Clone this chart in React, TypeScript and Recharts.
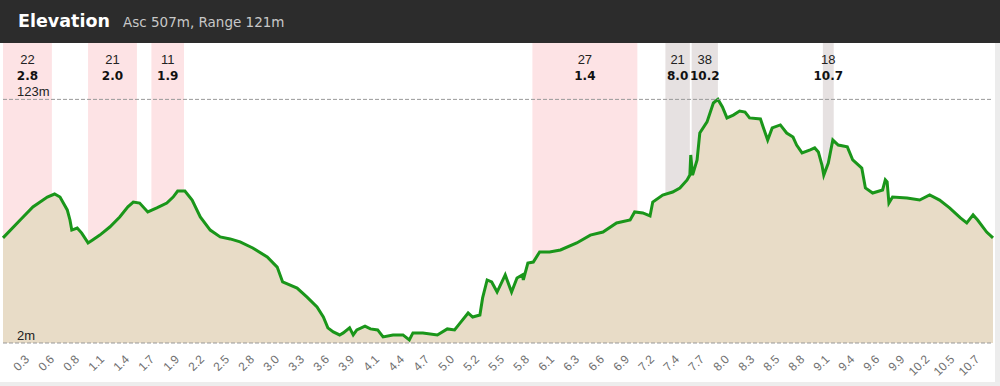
import React from "react";
import {
  AreaChart,
  Area,
  XAxis,
  YAxis,
  ReferenceArea,
  ReferenceLine,
} from "recharts";

// Distance along the route (km) and elevation (m)
const DIST_KM = [
  0.0, 0.19, 0.33, 0.49, 0.57, 0.63, 0.71, 0.74, 0.76, 0.82, 0.87, 0.94, 0.99,
  1.07, 1.18, 1.29, 1.38, 1.44, 1.51, 1.6, 1.7, 1.81, 1.88, 1.93, 2.01, 2.09,
  2.18, 2.29, 2.4, 2.51, 2.62, 2.76, 2.92, 3.03, 3.09, 3.25, 3.36, 3.47, 3.54,
  3.59, 3.65, 3.72, 3.76, 3.83, 3.87, 3.91, 4.0, 4.06, 4.14, 4.2, 4.31, 4.42,
  4.49, 4.53, 4.64, 4.8, 4.91, 4.99, 5.05, 5.14, 5.19, 5.27, 5.3, 5.35, 5.4,
  5.46, 5.55, 5.62, 5.68, 5.74, 5.75, 5.8, 5.86, 5.93, 6.04, 6.16, 6.34, 6.49,
  6.63, 6.78, 6.93, 6.98, 7.07, 7.15, 7.18, 7.29, 7.4, 7.48, 7.56, 7.59, 7.6,
  7.62, 7.67, 7.7, 7.78, 7.85, 7.9, 7.95, 8.0, 8.07, 8.14, 8.2, 8.25, 8.37,
  8.4, 8.45, 8.5, 8.59, 8.66, 8.73, 8.77, 8.83, 8.92, 8.97, 9.01, 9.05, 9.07,
  9.12, 9.17, 9.23, 9.33, 9.39, 9.49, 9.53, 9.61, 9.72, 9.75, 9.77, 9.79, 9.83,
  9.99, 10.13, 10.24, 10.35, 10.46, 10.58, 10.65, 10.72, 10.77, 10.87, 10.94,
];

const ELEV_M = [
  54.2, 63.1, 69.6, 74.5, 76.0, 74.5, 68.1, 63.1, 58.1, 59.1, 56.6, 51.7, 53.2,
  55.6, 59.6, 64.6, 69.6, 72.0, 71.5, 67.1, 69.1, 71.5, 74.5, 77.5, 77.5, 73.0,
  64.6, 58.1, 54.7, 53.7, 52.2, 49.2, 44.7, 39.7, 32.3, 29.3, 24.8, 19.9, 14.9,
  9.5, 7.5, 6.0, 7.0, 9.5, 6.0, 8.5, 10.4, 9.0, 8.5, 5.0, 6.0, 6.0,
  3.5, 7.0, 7.0, 6.0, 9.0, 8.5, 11.9, 16.9, 14.9, 15.9, 24.4, 33.3, 32.3,
  27.3, 35.8, 27.3, 34.3, 35.8, 33.3, 41.7, 42.2, 47.2, 47.2, 48.2, 51.7, 55.6,
  57.1, 61.6, 63.1, 67.1, 66.6, 65.1, 72.0, 75.5, 77.0, 79.0, 83.0, 85.4, 95.4,
  85.4, 92.9, 106.3, 111.8, 121.2, 123.0, 119.2, 113.8, 115.2, 117.2, 116.7, 113.8, 113.3,
  109.3, 102.8, 108.8, 110.3, 106.3, 104.3, 100.3, 96.4, 97.9, 98.9, 96.9, 90.4, 85.4,
  91.4, 102.8, 100.3, 99.4, 92.9, 88.9, 79.0, 76.5, 78.0, 83.0, 82.0, 71.5, 74.5,
  74.0, 73.0, 75.5, 73.0, 69.1, 64.1, 61.6, 65.6, 63.1, 57.1, 54.2,
];

// Highlighted segments
const BAND_START_KM = [0.0, 0.94, 1.64, 5.85, 7.32, 7.61, 9.06];
const BAND_END_KM = [0.54, 1.48, 2.0, 7.01, 7.59, 7.9, 9.18];
const BAND_TOP_LABELS = ["22", "21", "11", "27", "21", "38", "18"];
const BAND_BOTTOM_LABELS = ["2.8", "2.0", "1.9", "1.4", "8.0", "10.2", "10.7"];
const BAND_KIND = ["up", "up", "up", "up", "down", "down", "down"];

const TICK_LABELS = [
  "0.3", "0.6", "0.8", "1.1", "1.4", "1.7", "1.9", "2.2", "2.5", "2.8", "3.0",
  "3.3", "3.6", "3.9", "4.1", "4.4", "4.7", "5.0", "5.2", "5.5", "5.8", "6.1",
  "6.3", "6.6", "6.9", "7.2", "7.4", "7.7", "8.0", "8.3", "8.5", "8.8", "9.1",
  "9.4", "9.6", "9.9", "10.2", "10.5", "10.7",
];
const TICK_STEP_KM = 0.2763;
const TOTAL_KM = 10.94;

const MIN_ELEV = 2;
const MAX_ELEV = 123;

const data = DIST_KM.map((d, i) => ({ d, e: ELEV_M[i] }));
const ticks = TICK_LABELS.map((_, i) => (i + 1) * TICK_STEP_KM);

const XTick = (props: any) => {
  const { x, y, index } = props;
  return (
    <g transform={`translate(${x + 2},${y + 17})`}>
      <text
        x={0}
        y={0}
        textAnchor="end"
        transform="rotate(-45)"
        fill="#6f6f6f"
        fontSize={12}
        fontFamily="'Liberation Sans', Arial, sans-serif"
      >
        {TICK_LABELS[index]}
      </text>
    </g>
  );
};

const bandLabel = (i: number) => (props: any) => {
  const vb = props.viewBox || {};
  const cx = vb.x + vb.width / 2;
  return (
    <g>
      <text
        x={cx}
        y={64}
        textAnchor="middle"
        fill="#222"
        fontSize={13}
        fontFamily="'Liberation Sans', Arial, sans-serif"
      >
        {BAND_TOP_LABELS[i]}
      </text>
      <text
        x={cx}
        y={80}
        textAnchor="middle"
        fill="#111"
        fontSize={12}
        fontWeight="bold"
        fontFamily="'DejaVu Sans', Verdana, sans-serif"
      >
        {BAND_BOTTOM_LABELS[i]}
      </text>
    </g>
  );
};

const lineLabel = (text: string) => (props: any) => {
  const vb = props.viewBox || {};
  return (
    <text
      x={vb.x + 14}
      y={vb.y - 3}
      fill="#222"
      fontSize={13}
      fontFamily="'Liberation Sans', Arial, sans-serif"
    >
      {text}
    </text>
  );
};

export default function App() {
  return (
    <div
      style={{
        position: "relative",
        width: 1000,
        height: 386,
        background: "#fff",
        overflow: "hidden",
      }}
    >
      <style>{`body{margin:0;}`}</style>
      <div
        style={{
          position: "absolute",
          left: 0,
          top: 0,
          width: 1000,
          height: 43,
          background: "#2c2c2c",
          fontFamily: "'DejaVu Sans', Verdana, sans-serif",
          whiteSpace: "nowrap",
        }}
      >
        <span
          style={{
            position: "absolute",
            left: 18,
            top: 10,
            color: "#fff",
            fontWeight: "bold",
            fontSize: 17.5,
            lineHeight: "22px",
          }}
        >
          Elevation
        </span>
        <span
          style={{
            position: "absolute",
            left: 123,
            top: 13,
            color: "#c8c8c8",
            fontSize: 13.5,
            lineHeight: "18px",
          }}
        >
          Asc 507m, Range 121m
        </span>
      </div>
      <div
        style={{
          position: "absolute",
          left: 995,
          top: 43,
          width: 5,
          height: 343,
          background: "#ececec",
        }}
      />
      <div
        style={{
          position: "absolute",
          left: 0,
          top: 382,
          width: 1000,
          height: 4,
          background: "#ededed",
        }}
      />
      <div style={{ position: "absolute", left: 0, top: 0 }}>
        <AreaChart
          width={1000}
          height={386}
          data={data}
          margin={{ top: 43, right: 7, left: 3, bottom: 5 }}
        >
          <XAxis
            dataKey="d"
            type="number"
            domain={[0, TOTAL_KM]}
            ticks={ticks}
            tick={<XTick />}
            axisLine={false}
            tickLine={false}
            tickSize={0}
            tickMargin={0}
            height={38}
            interval={0}
          />
          <YAxis type="number" domain={[MIN_ELEV, 151]} hide />
          {BAND_START_KM.map((s, i) => (
            <ReferenceArea
              key={i}
              x1={s}
              x2={BAND_END_KM[i]}
              y1={MIN_ELEV}
              y2={151}
              fill={BAND_KIND[i] === "up" ? "#fde3e5" : "#e6e1e1"}
              fillOpacity={1}
              stroke="none"
              ifOverflow="hidden"
              label={bandLabel(i)}
            />
          ))}
          <Area
            type="linear"
            dataKey="e"
            stroke="#1a961a"
            strokeWidth={3}
            fill="#e8dcc7"
            fillOpacity={1}
            isAnimationActive={false}
            dot={false}
            activeDot={false}
          />
          <ReferenceLine
            y={MAX_ELEV}
            stroke="#999"
            strokeDasharray="4 2"
            label={lineLabel("123m")}
          />
          <ReferenceLine
            y={MIN_ELEV}
            stroke="#999"
            strokeDasharray="4 2"
            label={lineLabel("2m")}
          />
        </AreaChart>
      </div>
    </div>
  );
}
